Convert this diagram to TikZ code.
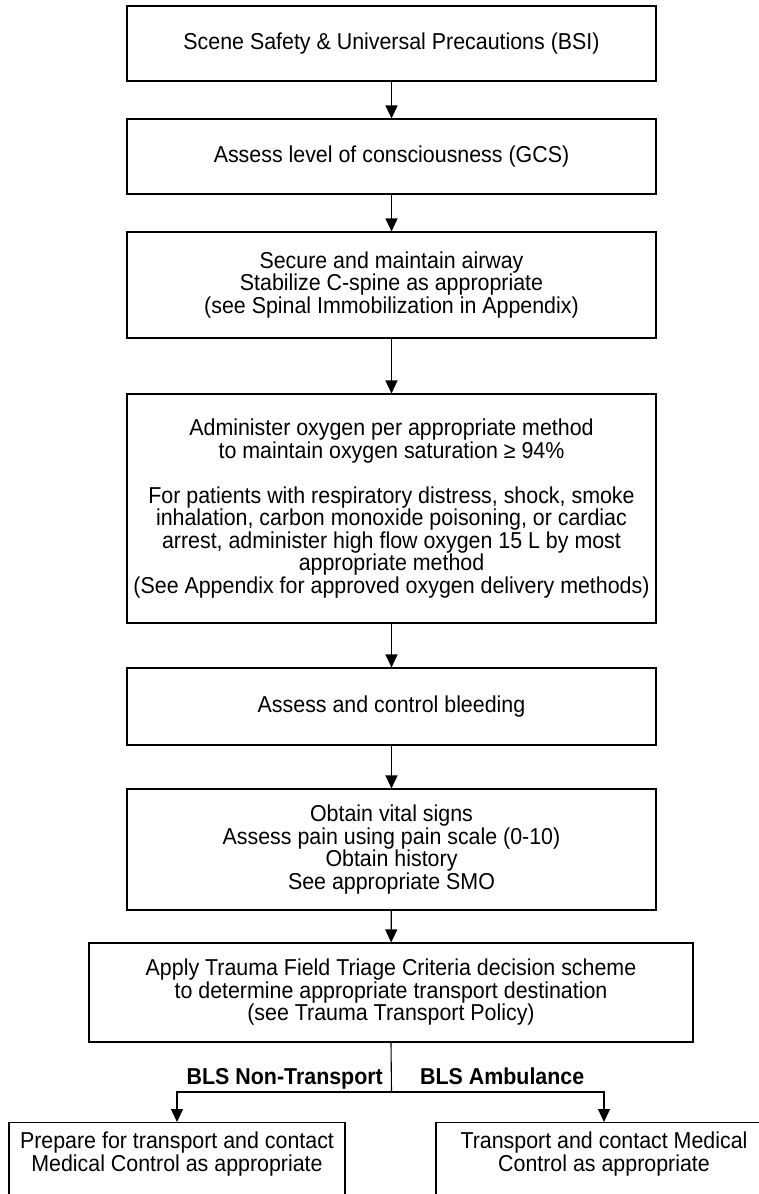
\documentclass[tikz,border=0pt]{standalone}
\usepackage{fontspec}
\setmainfont{Liberation Sans}[FakeStretch=0.93]
\usetikzlibrary{arrows.meta}
\begin{document}
\begin{tikzpicture}[x=1pt,y=-1pt,
  every node/.style={font=\fontsize{23}{22.5}\selectfont},
  stepbox/.style={draw=black, line width=1.1pt, align=center, inner sep=0pt,
                  minimum width=529pt},
  arr/.style={line width=1.1pt, -{Triangle[width=12pt,length=13pt]}},
  lbl/.style={font=\fontsize{23}{22.5}\selectfont\bfseries, inner sep=0pt}]
\useasboundingbox (0,0) rectangle (759,1194);
\clip (0,0) rectangle (759,1194);

% main column of steps
\node[stepbox, minimum height=75pt]  (b1) at (391.5,43.5) {Scene Safety \& Universal Precautions (BSI)};
\node[stepbox, minimum height=75pt]  (b2) at (391.5,156.5) {Assess level of consciousness (GCS)};
\node[stepbox, minimum height=106pt] (b3) at (391.5,285) {Secure and maintain airway\\Stabilize C-spine as appropriate\\(see Spinal Immobilization in Appendix)};
\node[stepbox, minimum height=229pt] (b4) at (391.5,508.5) {Administer oxygen per appropriate method\\to maintain oxygen saturation ≥ 94\%\\[22.5pt]For patients with respiratory distress, shock, smoke\\inhalation, carbon monoxide poisoning, or cardiac\\arrest, administer high flow oxygen 15 L by most\\appropriate method\\(See Appendix for approved oxygen delivery methods)};
\node[stepbox, minimum height=77pt]  (b5) at (391.5,706.5) {Assess and control bleeding};
\node[stepbox, minimum height=121pt] (b6) at (391.5,849.5) {Obtain vital signs\\Assess pain using pain scale (0-10)\\Obtain history\\See appropriate SMO};
\node[stepbox, minimum width=604pt, minimum height=99pt] (b7) at (391,992.5) {Apply Trauma Field Triage Criteria decision scheme\\to determine appropriate transport destination\\(see Trauma Transport Policy)};

% the two outcomes (their lower edges run past the page)
\node[stepbox, minimum width=336pt, minimum height=80pt, anchor=north] (b8) at (177,1122) {};
\node[stepbox, minimum width=336pt, minimum height=80pt, anchor=north] (b9) at (604,1122) {};
\node[anchor=north, align=center, inner sep=0pt] (t8) at ([yshift=-10pt]b8.north) {Prepare for transport and contact\\Medical Control as appropriate};
\node[anchor=north, align=center, inner sep=0pt] (t9) at ([yshift=-10pt]b9.north) {Transport and contact Medical\\Control as appropriate};

% connectors
\draw[arr] (b1) -- (b2);
\draw[arr] (b2) -- (b3);
\draw[arr] (b3) -- (b4);
\draw[arr] (b4) -- (b5);
\draw[arr] (b5) -- (b6);
\draw[arr] (b6) -- (b7);

\coordinate (split) at (391.5,1092);
\draw[line width=1.1pt] (b7.south) -- (split);
\draw[arr] (split) -| (b8.north);
\draw[arr] (split) -| (b9.north);

\node[lbl, anchor=base east] (lnon) at (383,1084) {BLS Non-Transport};
\node[lbl, anchor=base west] (lamb) at (420,1084) {BLS Ambulance};
\end{tikzpicture}
\end{document}
